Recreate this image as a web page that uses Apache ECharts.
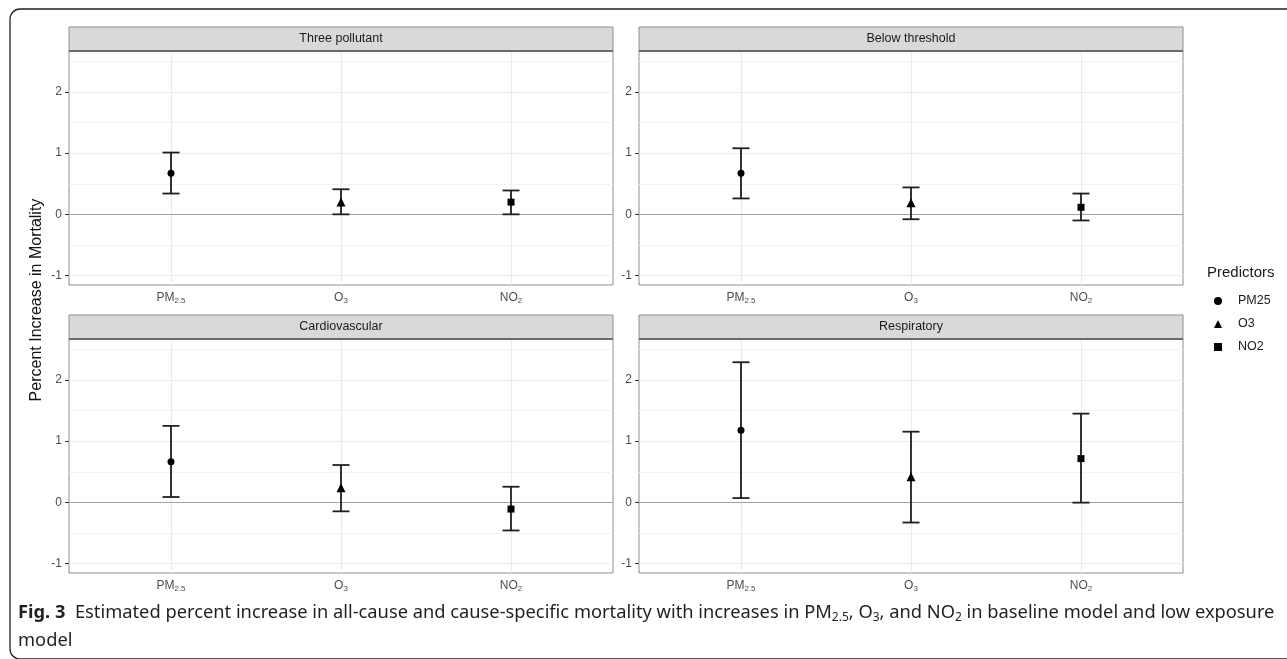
<!DOCTYPE html>
<html>
<head>
<meta charset="utf-8">
<script src="https://cdn.jsdelivr.net/npm/echarts@6/dist/echarts.min.js"></script>
<style>
  html, body { margin: 0; padding: 0; background: #fff; }
  #chart { width: 1287px; height: 659px; }
</style>
</head>
<body>
<div id="chart"></div>
<script>
// data
const categories = ['PM2.5', 'O3', 'NO2'];
const predictors = ['PM25', 'O3', 'NO2'];
const panelTitles = ['Three pollutant', 'Below threshold', 'Cardiovascular', 'Respiratory'];
const estimates = [
  [0.67, 0.20, 0.20],
  [0.67, 0.19, 0.115],
  [0.665, 0.24, -0.11],
  [1.18, 0.42, 0.715]
];
const lowerCI = [
  [0.34, 0.00, 0.00],
  [0.26, -0.08, -0.10],
  [0.087, -0.147, -0.46],
  [0.07, -0.33, -0.005]
];
const upperCI = [
  [1.01, 0.41, 0.39],
  [1.08, 0.44, 0.34],
  [1.25, 0.61, 0.255],
  [2.29, 1.155, 1.45]
];
const majorTicks = [-1, 0, 1, 2];
const minorTicks = [-0.5, 0.5, 1.5, 2.5];
const catPositions = [1, 2, 3];   // discrete positions, ggplot style
const yMin = -1.155, yMax = 2.67;

const symbols = { PM25: 'circle', O3: 'triangle', NO2: 'rect' };
const symbolSizes = { PM25: 7, O3: 9, NO2: 7 };

const chart = echarts.init(document.getElementById('chart'));

// panel layout (facet_wrap 2x2)
const panelPos = [
  { left: 69, top: 51 },
  { left: 639, top: 51 },
  { left: 69, top: 339 },
  { left: 639, top: 339 }
];
const panelW = 544, panelH = 234, stripH = 24;

const axisTextColor = '#4d4d4d';
const labelRich = {
  n: { fontSize: 12, color: axisTextColor, fontFamily: 'Liberation Sans', verticalAlign: 'top', lineHeight: 14 },
  s: { fontSize: 8, color: axisTextColor, fontFamily: 'Liberation Sans', verticalAlign: 'top', padding: [5, 0, 0, 0], lineHeight: 9 }
};
function catLabel(v) {
  const name = categories[Math.round(v) - 1];
  if (!name) return '';
  const m = name.match(/^([A-Z]+)([0-9.]+)$/);
  return '{n|' + m[1] + '}{s|' + m[2] + '}';
}

const grids = [], xAxes = [], yAxes = [], series = [], graphics = [];

panelTitles.forEach(function (title, p) {
  const pos = panelPos[p];
  grids.push({
    left: pos.left, top: pos.top, width: panelW, height: panelH,
    show: true, borderColor: '#8f8f8f', borderWidth: 1, backgroundColor: '#fff', z: 0
  });
  xAxes.push({
    type: 'value', gridIndex: p, min: 0.4, max: 3.6,
    axisLine: { show: false },
    axisTick: { show: true, length: 4, lineStyle: { color: '#333', width: 1 }, customValues: catPositions },
    axisLabel: { margin: 7, formatter: catLabel, rich: labelRich, customValues: catPositions },
    splitLine: { show: false }
  });
  yAxes.push({
    type: 'value', gridIndex: p, min: yMin, max: yMax,
    axisLine: { show: false },
    axisTick: { show: true, length: 4, lineStyle: { color: '#333', width: 1 }, customValues: majorTicks },
    axisLabel: { margin: 7, color: axisTextColor, fontSize: 12, fontFamily: 'Liberation Sans', customValues: majorTicks },
    splitLine: { show: false }
  });

  // panel grid lines (kept under the marks)
  const lines = [];
  minorTicks.forEach(function (v) { lines.push({ yAxis: v, lineStyle: { color: '#f3f3f3', width: 1 } }); });
  majorTicks.forEach(function (v) { lines.push({ yAxis: v, lineStyle: { color: '#ebebeb', width: 1.2 } }); });
  catPositions.forEach(function (c) { lines.push({ xAxis: c, lineStyle: { color: '#ebebeb', width: 1.2 } }); });
  lines.push({ yAxis: 0, lineStyle: { color: '#a3a3a3', width: 1.2 } });
  series.push({
    type: 'scatter', xAxisIndex: p, yAxisIndex: p, data: [], silent: true, z: 1,
    markLine: { silent: true, z: 1, symbol: 'none', label: { show: false }, animation: false,
      lineStyle: { type: 'solid' }, data: lines }
  });

  // error bars
  series.push({
    type: 'custom', xAxisIndex: p, yAxisIndex: p, z: 6, silent: true,
    data: catPositions.map(function (c, k) { return [c, lowerCI[p][k], upperCI[p][k]]; }),
    renderItem: function (params, api) {
      const x = api.value(0);
      const lo = api.coord([x, api.value(1)]);
      const hi = api.coord([x, api.value(2)]);
      const half = api.size([1, 0])[0] * 0.05;
      const st = { stroke: '#1f1f1f', lineWidth: 1.8 };
      return {
        type: 'group',
        children: [
          { type: 'line', shape: { x1: lo[0], y1: lo[1], x2: hi[0], y2: hi[1] }, style: st },
          { type: 'line', shape: { x1: hi[0] - half, y1: hi[1], x2: hi[0] + half, y2: hi[1] }, style: st },
          { type: 'line', shape: { x1: lo[0] - half, y1: lo[1], x2: lo[0] + half, y2: lo[1] }, style: st }
        ]
      };
    }
  });

  // point estimates
  predictors.forEach(function (name, k) {
    series.push({
      type: 'scatter', name: name, xAxisIndex: p, yAxisIndex: p, z: 7,
      symbol: symbols[name], symbolSize: symbolSizes[name],
      itemStyle: { color: '#000', opacity: 1 },
      data: [[catPositions[k], estimates[p][k]]]
    });
  });

  // facet strip
  graphics.push({
    type: 'rect', z: 10,
    shape: { x: pos.left, y: pos.top - stripH, width: panelW, height: stripH },
    style: { fill: '#d9d9d9', stroke: '#8f8f8f', lineWidth: 1 }
  });
  graphics.push({
    type: 'line', z: 11,
    shape: { x1: pos.left, y1: pos.top, x2: pos.left + panelW, y2: pos.top },
    style: { stroke: '#555', lineWidth: 1.5 }
  });
  graphics.push({
    type: 'text', z: 12, x: pos.left + panelW / 2, y: pos.top - stripH / 2,
    style: { text: title, fill: '#1a1a1a', font: '12.5px "Liberation Sans"', align: 'center', verticalAlign: 'middle' }
  });
});

// y-axis title
graphics.push({
  type: 'text', x: 37, y: 300, rotation: Math.PI / 2, z: 12,
  style: { text: 'Percent Increase in Mortality', fill: '#111', font: '16px "Liberation Sans"', align: 'center', verticalAlign: 'middle' }
});
// legend title
graphics.push({
  type: 'text', x: 1207, y: 273, z: 12,
  style: { text: 'Predictors', fill: '#1a1a1a', font: '15px "Liberation Sans"', align: 'left', verticalAlign: 'middle' }
});
// figure frame
graphics.push({
  type: 'rect', z: 0,
  shape: { x: 10, y: 9, width: 1300, height: 650, r: 10 },
  style: { fill: 'none', stroke: '#231f20', lineWidth: 1.3 }
});
// caption
const capFont = 18.3;
const capRich = {
  b: { fontWeight: 'bold', fontSize: capFont, fontFamily: 'Noto Sans', fill: '#231f20' },
  s: { fontSize: 12, fontFamily: 'Noto Sans', fill: '#231f20', verticalAlign: 'top', padding: [10, 0, 0, 0] }
};
graphics.push({
  type: 'text', x: 18, y: 613, z: 12,
  style: {
    text: '{b|Fig. 3}  Estimated percent increase in all-cause and cause-specific mortality with increases in PM{s|2.5}, O{s|3}, and NO{s|2} in baseline model and low exposure',
    rich: capRich, fill: '#231f20', font: capFont + 'px "Noto Sans"', verticalAlign: 'middle'
  }
});
graphics.push({
  type: 'text', x: 18, y: 641, z: 12,
  style: { text: 'model', fill: '#231f20', font: capFont + 'px "Noto Sans"', verticalAlign: 'middle' }
});

chart.setOption({
  animation: false,
  backgroundColor: '#fff',
  grid: grids,
  xAxis: xAxes,
  yAxis: yAxes,
  legend: {
    data: predictors, orient: 'vertical', left: 1214, top: 294, itemWidth: 8, itemHeight: 8,
    itemGap: 9, selectedMode: false, padding: 0,
    textStyle: { color: '#1a1a1a', fontSize: 12.5, fontFamily: 'Liberation Sans', lineHeight: 14, padding: [0, 0, 0, 11] }
  },
  series: series,
  graphic: graphics
});
</script>
</body>
</html>
